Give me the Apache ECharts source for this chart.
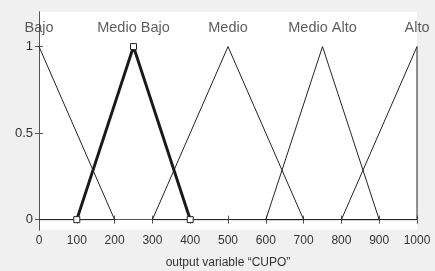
<!DOCTYPE html>
<html>
<head>
<meta charset="utf-8">
<script src="https://cdn.jsdelivr.net/npm/echarts@6/dist/echarts.min.js"></script>
<style>
  html, body { margin: 0; padding: 0; background: #f0f0f0; }
  #chart { width: 435px; height: 271px; }
</style>
</head>
<body>
<div id="chart"></div>
<script>
// membership functions of the output variable "CUPO"
var mfNames = ['Bajo', 'Medio Bajo', 'Medio', 'Medio Alto', 'Alto'];
var mfPeaks = [0, 250, 500, 750, 1000];
var bajo = [[0, 1], [200, 0], [0, 0]];
var medioBajo = [[100, 0], [250, 1], [400, 0]]; // highlighted one
var medio = [[300, 0], [500, 1], [700, 0], [300, 0]];
var medioAlto = [[600, 0], [750, 1], [900, 0], [600, 0]];
var alto = [[800, 0], [1000, 1], [1000, 0], [800, 0]];
var yTicks = [0, 0.5, 1];
var xTitle = 'output variable \u201cCUPO\u201d';

var chart = echarts.init(document.getElementById('chart'), null, { renderer: 'canvas' });

var axisCol = '#555';
var txtCol = '#333';

function thinLine(data) {
	return {
		type: 'line',
		data: data,
		symbol: 'none',
		lineStyle: { color: '#222', width: 1 },
		z: 2
	};
}

var option = {
	backgroundColor: '#f0f0f0',
	animation: false,
	grid: {
		left: 39,
		right: 18,
		top: 12,
		bottom: 41,
		outerBoundsMode: 'none',
		containLabel: false,
		show: true,
		backgroundColor: '#fff',
		borderWidth: 0
	},
	xAxis: [
		{
			type: 'value',
			min: 0,
			max: 1000,
			interval: 100,
			position: 'bottom',
			name: xTitle,
			nameLocation: 'middle',
			nameGap: 27,
			nameTextStyle: { color: txtCol, fontSize: 12, fontFamily: 'Liberation Sans' },
			splitLine: { show: false },
			axisLine: { show: true, lineStyle: { color: axisCol, width: 1 } },
			axisTick: { show: true, inside: true, length: 4, lineStyle: { color: axisCol } },
			axisLabel: {
				color: txtCol,
				fontSize: 12,
				fontFamily: 'Liberation Sans',
				margin: 5,
				showMinLabel: true,
				showMaxLabel: true,
				formatter: function (v) { return String(v); }
			}
		},
		{
			type: 'value',
			min: 0,
			max: 1000,
			interval: 100,
			position: 'top',
			splitLine: { show: false },
			axisLine: { show: true, lineStyle: { color: axisCol, width: 1 } },
			axisTick: { show: true, inside: true, length: 4, lineStyle: { color: axisCol } },
			axisLabel: { show: false }
		}
	],
	yAxis: [
		{
			type: 'value',
			min: -0.06,
			max: 1.2,
			position: 'left',
			splitLine: { show: false },
			axisLine: { show: true, lineStyle: { color: axisCol, width: 1 } },
			axisTick: { show: true, inside: true, length: 4, customValues: yTicks, lineStyle: { color: axisCol } },
			axisLabel: {
				color: txtCol,
				fontSize: 13,
				fontFamily: 'Liberation Sans',
				margin: 6,
				customValues: yTicks,
				formatter: function (v) { return String(v); }
			}
		},
		{
			type: 'value',
			min: -0.06,
			max: 1.2,
			position: 'right',
			splitLine: { show: false },
			axisLine: { show: true, lineStyle: { color: axisCol, width: 1 } },
			axisTick: { show: true, inside: true, length: 4, customValues: yTicks, lineStyle: { color: axisCol } },
			axisLabel: { show: false }
		}
	],
	series: [
		thinLine(bajo),
		thinLine(medio),
		thinLine(medioAlto),
		thinLine(alto),
		{
			type: 'line',
			data: medioBajo,
			symbol: 'rect',
			symbolSize: 6,
			showAllSymbol: true,
			itemStyle: { color: '#fff', borderColor: '#222', borderWidth: 1 },
			lineStyle: { color: '#1a1a1a', width: 3 },
			z: 3
		},
		{
			// membership function names above the peaks
			type: 'scatter',
			data: mfPeaks.map(function (p) { return [p, 1.11]; }),
			symbolSize: 0,
			silent: true,
			label: {
				show: true,
				position: 'inside',
				color: txtCol,
				fontSize: 14.5,
				fontFamily: 'Liberation Sans',
				formatter: function (p) { return mfNames[p.dataIndex]; }
			},
			z: 5
		}
	]
};

chart.setOption(option, true);
</script>
</body>
</html>
